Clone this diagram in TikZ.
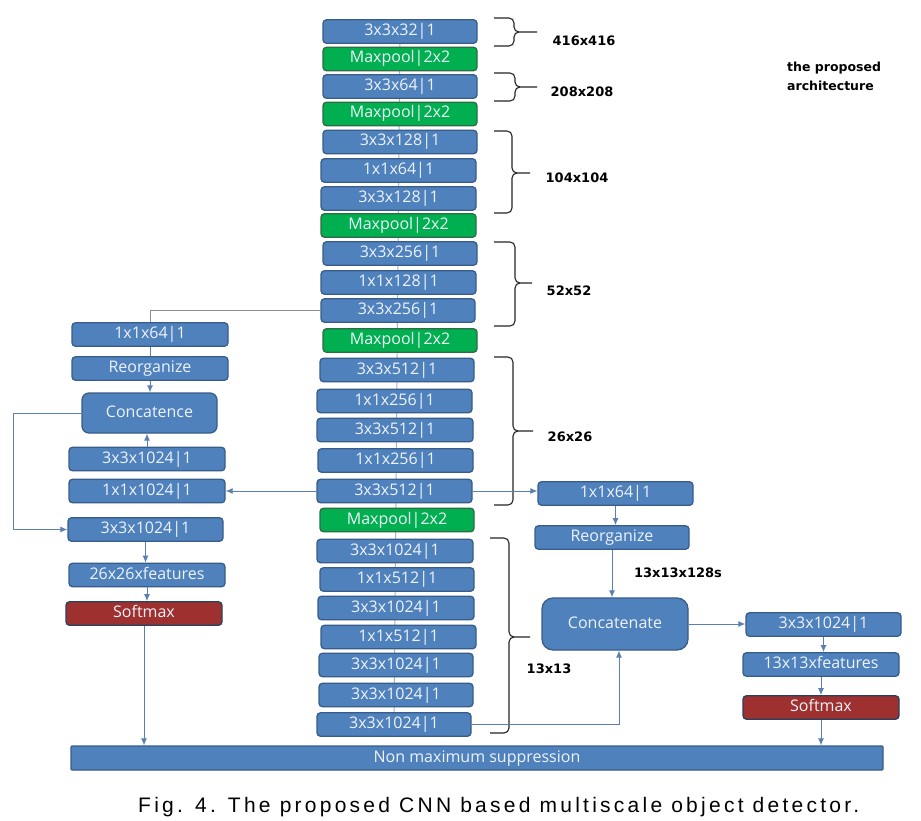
\documentclass[tikz,border=0pt]{standalone}
\usepackage{fontspec}
\usepackage{graphicx}
\usetikzlibrary{arrows.meta,backgrounds}
\newfontfamily\boxfont{Open Sans}
\newfontfamily\lblfont{DejaVu Sans}
\newfontfamily\capfont[LetterSpace=15.5]{Liberation Sans}
\definecolor{blu}{HTML}{4F81BD}
\definecolor{bdr}{HTML}{385D8A}
\definecolor{grn}{HTML}{00B050}
\definecolor{grnb}{HTML}{2F6B45}
\definecolor{red}{HTML}{9E3030}
\definecolor{txtc}{HTML}{EEF3FA}
\definecolor{conc}{HTML}{5B7FAE}
\definecolor{spine}{HTML}{A8B4C4}
\tikzset{
  blk/.style={draw=bdr, fill=blu, rounded corners=3.5pt, text=txtc, line width=1.3pt,
    font=\boxfont\fontsize{16}{18}\selectfont, minimum height=23.5pt, minimum width=155pt,
    inner sep=0pt, text height=11.5pt, text depth=3.5pt},
  pool/.style={blk, fill=grn, draw=grnb},
  soft/.style={blk, fill=red, draw=bdr!70!black},
  conn/.style={draw=conc, line width=1pt},
  arr/.style={conn, -{Latex[length=7pt,width=6pt]}},
  brc/.style={draw=black!85, line width=1.1pt},
  lbl/.style={font=\lblfont\bfseries\fontsize{13}{15}\selectfont, text=black, inner sep=0pt}
}
\newcommand{\mybrace}[6]{% x0 x1 tip ytop ybot ymid
  \draw[brc] (#1,#4) -- (#2-5,#4) to[out=0,in=90] (#2,#4+5) -- (#2,#6-5) to[out=-90,in=180] (#2+5,#6) -- (#3,#6);
  \draw[brc] (#1,#5) -- (#2-5,#5) to[out=0,in=-90] (#2,#5-5) -- (#2,#6+5) to[out=90,in=180] (#2+5,#6);
}
\begin{document}
\begin{tikzpicture}[x=1pt,y=-1pt]
\useasboundingbox (0,0) rectangle (921,821);
% center column
\node[blk, minimum width=154pt] (c1) at (400,31.5) {3x3x32|1};
\node[pool, minimum width=154pt] (c2) at (400,59) {Maxpool|2x2};
\node[blk, minimum width=154pt] (c3) at (400,86.5) {3x3x64|1};
\node[pool, minimum width=154pt] (c4) at (400,114) {Maxpool|2x2};
\node[blk, minimum width=154pt] (c5) at (400,142) {3x3x128|1};
\node[blk] (c6) at (398.5,170.5) {1x1x64|1};
\node[blk] (c7) at (398.5,198.5) {3x3x128|1};
\node[pool] (c8) at (398.5,225.5) {Maxpool|2x2};
\node[blk, minimum width=154pt] (c9) at (400,253.5) {3x3x256|1};
\node[blk] (c10) at (398.5,282.5) {1x1x128|1};
\node[blk, minimum width=154pt] (c11) at (398,310.5) {3x3x256|1};
\node[pool, minimum width=154pt] (c12) at (400,340.5) {Maxpool|2x2};
\node[blk, minimum width=154pt] (c13) at (397,370) {3x3x512|1};
\node[blk] (c14) at (394.5,401) {1x1x256|1};
\node[blk, minimum width=156pt] (c15) at (395,430) {3x3x512|1};
\node[blk] (c16) at (395.5,460.5) {1x1x256|1};
\node[blk] (c17) at (394.5,491) {3x3x512|1};
\node[pool, minimum width=154pt] (c18) at (397,520) {Maxpool|2x2};
\node[blk, minimum width=156pt] (c19) at (395,551) {3x3x1024|1};
\node[blk, minimum width=154pt] (c20) at (397,579.5) {1x1x512|1};
\node[blk, minimum width=156pt] (c21) at (396,608) {3x3x1024|1};
\node[blk] (c22) at (398.5,637) {1x1x512|1};
\node[blk, minimum width=154pt] (c23) at (396,665) {3x3x1024|1};
\node[blk, minimum width=154pt] (c24) at (396,695) {3x3x1024|1};
\node[blk, minimum width=154pt] (c25) at (394,724.5) {3x3x1024|1};
% left column
\node[blk, minimum width=156pt] (l1) at (150,334.5) {1x1x64|1};
\node[blk, minimum width=156pt] (l2) at (150,368.5) {Reorganize};
\node[blk, minimum width=135pt, minimum height=40pt, rounded corners=7pt] (lc) at (149.5,413) {Concatence};
\node[blk, minimum width=156pt] (l4) at (147,459) {3x3x1024|1};
\node[blk, minimum width=156pt] (l5) at (147,491) {1x1x1024|1};
\node[blk] (l6) at (145.5,529.5) {3x3x1024|1};
\node[blk, minimum width=156pt] (l7) at (147,575) {26x26xfeatures};
\node[soft, minimum width=156pt] (l8) at (144,613.5) {Softmax};
% right column
\node[blk] (r1) at (615.5,493.5) {1x1x64|1};
\node[blk, minimum width=154pt] (r2) at (612,537.5) {Reorganize};
\node[blk, minimum width=146pt, minimum height=52pt, rounded corners=11pt] (rc) at (615,624) {Concatenate};
\node[blk] (r3) at (823.5,624.5) {3x3x1024|1};
\node[blk, minimum width=156pt] (r4) at (821,664.5) {13x13xfeatures};
\node[soft, minimum width=156pt] (r5) at (821,707.5) {Softmax};
% bottom
\node[blk, minimum width=812pt, minimum height=24pt, rounded corners=1pt] (nms) at (477,758) {Non maximum suppression};
\node[font=\capfont\fontsize{21}{23}\selectfont, inner sep=0pt, anchor=west] (cap) at (138,807) {Fig. 4. The proposed CNN based multiscale object detector.};
% labels
\node[lbl] (t1) at (584,41) {416x416};
\node[lbl] (t2) at (582,92) {208x208};
\node[lbl] (t3) at (577,178) {104x104};
\node[lbl] (t4) at (569,291) {52x52};
\node[lbl] (t5) at (570,437) {26x26};
\node[lbl] (t6) at (549,669) {13x13};
\node[lbl] (t7) at (678,573) {13x13x128s};
\node[lbl, anchor=north west, align=left, font=\lblfont\bfseries\fontsize{12.5}{19}\selectfont] (t8) at (787,62) {the proposed\\architecture};
% braces
\mybrace{494}{514}{537}{18}{46}{32}
\mybrace{494}{515}{537}{73}{101}{87}
\mybrace{494}{512}{530}{131}{213}{173}
\mybrace{494}{515}{532}{242}{326}{283}
\mybrace{494}{513}{533}{357}{505}{431}
\mybrace{490}{509}{530}{538}{733}{637}
% connectors
\begin{pgfonlayer}{background}
\fill[white] (0,0) rectangle (921,821);
\draw[draw=spine, line width=1pt] (c1.center) -- (c25.center);
\draw[conn, draw=black!45] (c11.west) -| (l1.north);
\draw[conn] (l1.north) -- (l2.south);
\end{pgfonlayer}
\coordinate (loopx) at (13,0);
\draw[arr] (l2.south) -- (l2.south |- lc.north);
\draw[arr] (l4.north) -- (l4.north |- lc.south);
\draw[arr] (lc.west) -- (lc.west -| loopx) |- (l6.west);
\draw[arr] (c17.west) -- (l5.east);
\draw[arr] (c17.east) -- (c17.east -| r1.west);
\draw[arr] (l6.south) -- (l6.south |- l7.north);
\draw[arr] (l7.south) -- (l7.south |- l8.north);
\draw[arr] (l8.south) -- (l8.south |- nms.north);
\draw[arr] (r1.south) -- (r1.south |- r2.north);
\draw[arr] (r2.south) -- (r2.south |- rc.north);
\draw[arr] (c25.east) -| ([xshift=4pt]rc.south);
\draw[arr] (rc.east) -- (rc.east -| r3.west);
\draw[arr] (r3.south) -- (r3.south |- r4.north);
\draw[arr] (r4.south) -- (r4.south |- r5.north);
\draw[arr] (r5.south) -- (r5.south |- nms.north);
\end{tikzpicture}
\end{document}
